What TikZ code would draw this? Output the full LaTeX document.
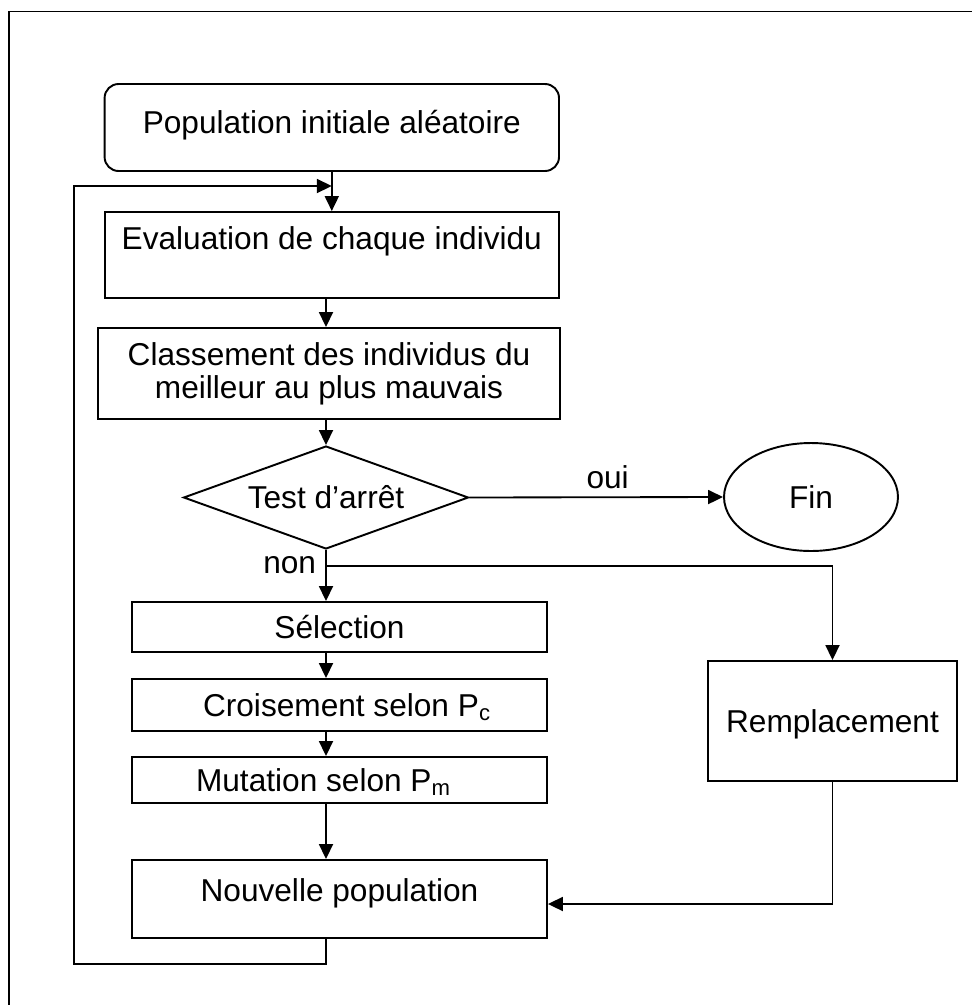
\documentclass[tikz,border=0pt]{standalone}
\usepackage{fontspec}
\setmainfont{Liberation Sans}
\usetikzlibrary{arrows.meta,shapes.geometric}
\begin{document}
\begin{tikzpicture}[x=0.02cm,y=-0.02cm,
  font=\fontsize{18}{19}\selectfont,
  outline/.style={draw=black,line width=1.1pt},
  procbox/.style={outline,rectangle,inner sep=0pt,text height=0.452cm,text depth=0pt,align=center},
  arr/.style={draw=black,line width=1.05pt,-{Triangle[length=0.3cm,width=0.28cm]}},
  tag/.style={inner sep=0pt}
]
\useasboundingbox (0,0) rectangle (972,1005);

% page frame (only top and left edges fall inside the picture)
\draw[line width=1.1pt] (990,11.5) -- (9,11.5) -- (9,1020);

% process boxes
\node[procbox,rounded corners=0.28cm,minimum width=9.09cm,minimum height=1.74cm,text depth=0.22cm]
  (pop) at (331.8,127.5) {Population initiale aléatoire};
\node[procbox,minimum width=9.09cm,minimum height=1.72cm,text depth=0.69cm]
  (eval) at (331.8,255) {Evaluation de chaque individu};
\node[outline,rectangle,inner sep=0pt,align=center,minimum width=9.24cm,minimum height=1.82cm,
  font=\fontsize{18}{18.8}\selectfont]
  (class) at (329,373.5) {Classement des individus du\\meilleur au plus mauvais};
\node[outline,diamond,shape aspect=2.77,inner sep=0pt,minimum width=5.7cm,minimum height=2.06cm]
  (test) at (326,497.5) {Test d’arrêt};
\node[outline,ellipse,inner sep=0pt,minimum width=3.48cm,minimum height=2.16cm]
  (fin) at (811,497) {Fin};
\node[procbox,minimum width=8.3cm,minimum height=1.0cm]
  (sel) at (339.5,627) {Sélection};
\node[procbox,minimum width=8.3cm,minimum height=1.04cm]
  (crois) at (339.5,705) {\hspace*{0.3cm}Croisement selon P\textsubscript{c}};
\node[procbox,minimum width=8.3cm,minimum height=0.92cm]
  (mut) at (339.5,780) {Mutation selon P\textsubscript{m}\hspace*{0.64cm}};
\node[procbox,minimum width=8.3cm,minimum height=1.56cm,text depth=0.34cm]
  (nouv) at (339.5,899) {Nouvelle population};
\node[procbox,minimum width=4.98cm,minimum height=2.4cm]
  (remp) at (832.5,721) {Remplacement};

% corners of the return loop and the branch point
\coordinate (split) at (326,566);
\coordinate (loopBL) at (74,964);
\coordinate (loopTL) at (74,186);

% main chain
\draw[arr] (pop.south) -- (pop.south |- eval.north);
\draw[arr] (eval.south -| test.north) -- (test.north |- class.north);
\draw[arr] (class.south -| test.north) -- (test.north);
\draw[arr] (test.east) -- (fin.west)
  node[tag,pos=0.545,above=0.16cm] {oui};
\draw[arr] (test.south) -- (test.south |- sel.north)
  node[tag,pos=0.47,anchor=base east,xshift=-0.18cm] {non};
\draw[arr] (sel.south -| test.south) -- (test.south |- crois.north);
\draw[arr] (crois.south -| test.south) -- (test.south |- mut.north);
\draw[arr] (mut.south -| test.south) -- (test.south |- nouv.north);

% replacement branch
\draw[arr] (split) -| (remp.north);
\draw[arr] (remp.south) |- ([yshift=-0.1cm]nouv.east);

% return to evaluation
\draw[arr] (nouv.south -| test.south) |- (loopBL) -- (loopTL) -- (loopTL -| pop.south);
\end{tikzpicture}
\end{document}
